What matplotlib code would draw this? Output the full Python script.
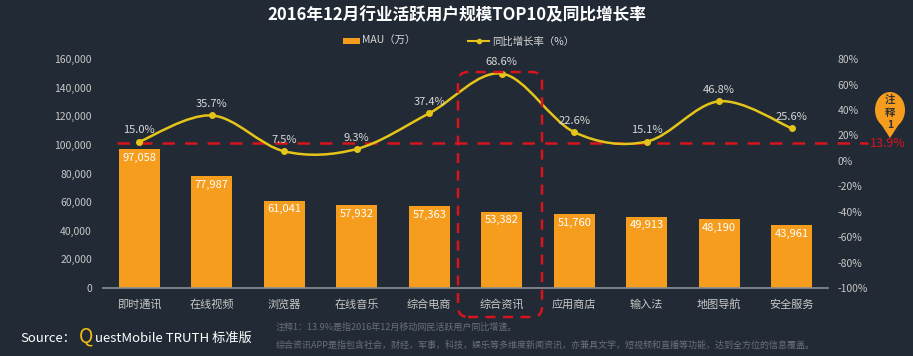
import numpy as np
import matplotlib
matplotlib.use("Agg")
import matplotlib.pyplot as plt
from matplotlib.path import Path
from matplotlib.patches import PathPatch, FancyBboxPatch, Rectangle, Polygon, Ellipse
from matplotlib.lines import Line2D
from matplotlib.transforms import IdentityTransform

plt.rcParams['font.family'] = ['Noto Sans CJK SC', 'DejaVu Sans']

# data
categories = ['即时通讯', '在线视频', '浏览器', '在线音乐', '综合电商',
              '综合资讯', '应用商店', '输入法', '地图导航', '安全服务']
mau = [97058, 77987, 61041, 57932, 57363, 53382, 51760, 49913, 48190, 43961]
growth = [15.0, 35.7, 7.5, 9.3, 37.4, 68.6, 22.6, 15.1, 46.8, 25.6]
overall_growth = 13.9
left_ticks = [0, 20000, 40000, 60000, 80000, 100000, 120000, 140000, 160000]
right_ticks = [-100, -80, -60, -40, -20, 0, 20, 40, 60, 80]

bg = '#222a35'
bar_color = '#f69d1e'
line_color = '#e5c419'
red = '#d8141c'
tick_color = '#c8c8c8'

fig = plt.figure(figsize=(9.13, 3.56), dpi=100, facecolor=bg)
ax = fig.add_axes([0.1128, 0.191, 0.794, 0.643])
ax.set_facecolor(bg)
ax2 = ax.twinx()

x = np.arange(len(categories))
ax.bar(x, mau, width=0.57, color=bar_color, zorder=2)
for xi, v in zip(x, mau):
    ax.text(xi, v - 2500, f'{v:,}', ha='center', va='top', color='white', fontsize=8, zorder=5)

ax.set_xlim(-0.5, 9.5)
ax.set_ylim(0, 160000)
ax.set_yticks(left_ticks)
ax.set_yticklabels([f'{t:,}' for t in left_ticks])
ax.set_xticks(x)
ax.set_xticklabels(categories)
ax.tick_params(axis='y', length=0, colors=tick_color, labelsize=7.5, pad=8)
ax.tick_params(axis='x', length=0, colors=tick_color, labelsize=8, pad=8)
for s in ['top', 'right', 'left']:
    ax.spines[s].set_visible(False)
ax.spines['bottom'].set_color('#8a8f96')
ax.spines['bottom'].set_linewidth(1.2)

# growth line, smooth curve (Catmull-Rom -> bezier)
ax2.set_ylim(-100, 80)
ax2.set_yticks(right_ticks)
ax2.set_yticklabels([f'{t}%' for t in right_ticks])
ax2.tick_params(axis='y', length=0, colors=tick_color, labelsize=7.5, pad=7)
for s in ax2.spines.values():
    s.set_visible(False)

pts = np.column_stack([x, growth]).astype(float)
verts = [pts[0]]
codes = [Path.MOVETO]
n = len(pts)
for i in range(n - 1):
    p0 = pts[max(i - 1, 0)]
    p1 = pts[i]
    p2 = pts[i + 1]
    p3 = pts[min(i + 2, n - 1)]
    verts += [p1 + (p2 - p0) / 6, p2 - (p3 - p1) / 6, p2]
    codes += [Path.CURVE4] * 3
ax2.add_patch(PathPatch(Path(verts, codes), facecolor='none', edgecolor=line_color, lw=1.8, zorder=4))
ax2.plot(x, growth, 'o', color=line_color, markersize=4, zorder=5)
for xi, g in zip(x, growth):
    ax2.text(xi, g + 5, f'{g:.1f}%', ha='center', va='bottom', color='#d8d8d8', fontsize=8, zorder=6)

# overall growth reference line
ax2.plot([-0.3, 10.05], [overall_growth, overall_growth], color=red, lw=1.8,
         dashes=(5, 4), clip_on=False, zorder=3)
ax2.text(10.08, overall_growth - 0.5, f'{overall_growth}%', ha='left', va='center',
         color=red, fontsize=9, clip_on=False)

# dashed rounded box around 综合资讯 (display coords)
box = FancyBboxPatch((468, 356 - 307), 64, 225, boxstyle='round,pad=10,rounding_size=10',
                     transform=IdentityTransform(), facecolor='none', edgecolor=red,
                     lw=1.8, linestyle=(0, (4, 3)), zorder=6)
fig.patches.append(box)

# note badge (display coords, y from bottom)
fig.patches.append(Ellipse((890, 356 - 110), 30, 36, transform=IdentityTransform(),
                           facecolor=bar_color, edgecolor='none'))
fig.patches.append(Polygon([[877, 356 - 118], [903, 356 - 118], [890, 356 - 138]], closed=True,
                           transform=IdentityTransform(), facecolor=bar_color, edgecolor='none'))
for ch, yy in [('注', 100), ('释', 113), ('1', 125)]:
    fig.text(890 / 913, 1 - yy / 356, ch, ha='center', va='center', color='#333333',
             fontsize=7.5, fontweight='bold')

# title
fig.text(0.5, 0.958, '2016年12月行业活跃用户规模TOP10及同比增长率', ha='center', va='center',
         color='white', fontsize=12, fontweight='bold')

# legend
fig.patches.append(Rectangle((0.376, 0.876), 0.018, 0.016, transform=fig.transFigure,
                             facecolor=bar_color, edgecolor='none'))
fig.text(0.397, 0.884, 'MAU（万）', ha='left', va='center', color='#d8d8d8', fontsize=7.5)
fig.lines.append(Line2D([0.513, 0.536], [0.884, 0.884], transform=fig.transFigure,
                        color=line_color, lw=1.5, marker=None))
fig.lines.append(Line2D([0.5245], [0.884], transform=fig.transFigure, color=line_color,
                        marker='o', markersize=3))
fig.text(0.539, 0.884, '同比增长率（%）', ha='left', va='center', color='#d8d8d8', fontsize=7.5)

# footer
fig.text(0.022, 0.05, 'Source：', ha='left', va='center', color='white', fontsize=9.5)
fig.text(0.086, 0.055, 'Q', ha='left', va='center', color='#f2c10f', fontsize=14)
fig.text(0.104, 0.05, 'uestMobile TRUTH 标准版', ha='left', va='center', color='white', fontsize=9.5)
fig.text(0.302, 0.08, '注释1：13.9%是指2016年12月移动网民活跃用户同比增速。', ha='left', va='center',
         color='#6a7078', fontsize=6.5, style='italic')
fig.text(0.302, 0.03, '综合资讯APP是指包含社会，财经，军事，科技，娱乐等多维度新闻资讯，亦兼具文学，短视频和直播等功能，达到全方位的信息覆盖。',
         ha='left', va='center', color='#6a7078', fontsize=6.5, style='italic')

fig.savefig('out.png', dpi=100, facecolor=bg)
